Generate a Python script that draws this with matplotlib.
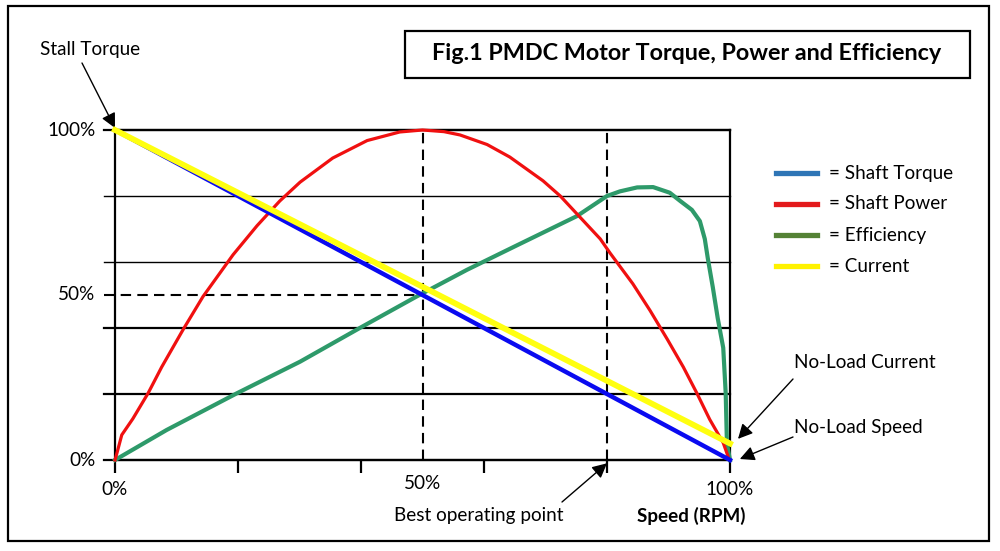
import matplotlib
matplotlib.use('Agg')
import matplotlib.pyplot as plt
from matplotlib.patches import Rectangle
from matplotlib.lines import Line2D

plt.rcParams['font.family'] = ['Lato', 'DejaVu Sans']

# speed (% of no-load speed) and curve values (%)
torque_speed = [0, 25, 50, 75, 100]
torque = [100, 75, 50, 25, 0]

current_speed = [0, 100]
current = [100, 5]

power_speed = [0, 0.3, 1.1, 2.9, 5.4, 7.6, 11.1, 14.3, 19.2, 23.1, 26.8, 30.1, 35.4, 41, 46.3,
               50, 53.5, 56.1, 60.5, 64.2, 69.6, 72.4, 75.6, 78.9, 80.5, 84.2, 87, 89.8, 92.4,
               94.6, 96.7, 98.9, 99.7]
power = [0, 2, 7.6, 12.5, 20.3, 28.2, 39.6, 49.5, 62.2, 71, 78.5, 84.2, 91.5, 96.8, 99.4,
         100, 99.5, 98.5, 95.6, 91.8, 84.6, 80, 73.6, 67, 62.7, 53.4, 45.3, 36.6, 28.2,
         20.3, 12.3, 5.2, 1]

eff_speed = [0, 8.4, 19.8, 30.1, 39.8, 49, 57.2, 65.3, 75.1, 80, 82.1, 84.9, 87.5, 90.2,
             91.9, 93.8, 95.1, 95.9, 96.4, 97.2, 98.0, 98.9, 99.3, 99.5, 100]
eff = [0, 9.1, 20.2, 29.8, 40, 49.5, 57.6, 65, 73.9, 80, 81.4, 82.6, 82.7, 81,
       78.5, 75.8, 72.4, 67, 61, 52.4, 43, 34, 20.3, 5, 0]

legend_labels = ['= Shaft Torque', '= Shaft Power', '= Efficiency', '= Current']
legend_colors = ['#2E75B6', '#E31A1C', '#548235', '#FFF200']

grid_levels = [0, 20, 40, 60, 80, 100]
x_ticks = [0, 20, 40, 60, 80, 100]

W, H = 1000, 551
FS = 13.6


def fx(px):
    return px / W


def fy(py):
    return 1 - py / H


fig = plt.figure(figsize=(10, 5.51), dpi=100)
ax = fig.add_axes([fx(115), fy(460), (730 - 115) / W, (460 - 130) / H])
ax.set_xlim(0, 100)
ax.set_ylim(0, 100)

# horizontal grid lines, extended a little left of the axis like ticks
for lev in grid_levels:
    lw = 1.0 if lev in (60, 80) else 1.6
    ax.axhline(lev, xmin=-0.018, xmax=1, color='black', lw=lw, clip_on=False, zorder=1)

# dashed guide lines
dash = (0, (5, 3))
ax.axvline(50, color='black', lw=1.5, ls=dash, zorder=1)
ax.axvline(80, color='black', lw=1.5, ls=dash, zorder=1)
ax.axhline(50, xmin=-0.018, xmax=0.5, color='black', lw=1.5, ls=dash, clip_on=False, zorder=1)

# curves
ax.plot(eff_speed, eff, color='#2E9A6A', lw=3.0, zorder=3, clip_on=False)
ax.plot(power_speed, power, color='#F01010', lw=2.3, zorder=4, clip_on=False)
ax.plot(torque_speed, torque, color='#0A0AF0', lw=3.2, zorder=5, clip_on=False)
ax.plot(current_speed, current, color='#FFFF10', lw=4.2, zorder=6, clip_on=False)

for side in ['left', 'right', 'top', 'bottom']:
    ax.spines[side].set_linewidth(1.6)
    ax.spines[side].set_color('black')

ax.set_xticks(x_ticks)
ax.set_xticklabels([])
ax.tick_params(axis='x', direction='out', length=9, width=1.6, color='black')
ax.set_yticks([])

# tick labels
ax.text(0, -9, '0%', ha='center', va='center', fontsize=FS)
ax.text(50, -7.2, '50%', ha='center', va='center', fontsize=FS)
ax.text(100, -9, '100%', ha='center', va='center', fontsize=FS)
for val, lab in [(100, '100%'), (50, '50%'), (0, '0%')]:
    ax.text(-3.2, val, lab, ha='right', va='center', fontsize=FS)

# annotations
fig.text(fx(40), fy(49), 'Stall Torque', ha='left', va='center', fontsize=FS)
fig.text(fx(794), fy(363), 'No-Load Current', ha='left', va='center', fontsize=FS)
fig.text(fx(794), fy(427), 'No-Load Speed', ha='left', va='center', fontsize=FS)
fig.text(fx(394), fy(516), 'Best operating point', ha='left', va='center', fontsize=FS)
fig.text(fx(637), fy(516), 'Speed (RPM)', ha='left', va='center', fontsize=FS, fontweight='bold')

arrow = dict(arrowstyle='-|>', color='black', lw=1.0, mutation_scale=22,
             shrinkA=0, shrinkB=0)
ax.annotate('', xy=(0, 100.6), xycoords='data', xytext=(fx(82), fy(63)),
            textcoords='figure fraction', arrowprops=arrow, annotation_clip=False)
ax.annotate('', xy=(101.3, 6.4), xycoords='data', xytext=(fx(793), fy(379)),
            textcoords='figure fraction', arrowprops=arrow, annotation_clip=False)
ax.annotate('', xy=(101.6, 0.3), xycoords='data', xytext=(fx(793), fy(437)),
            textcoords='figure fraction', arrowprops=arrow, annotation_clip=False)
ax.annotate('', xy=(80, -1), xycoords='data', xytext=(fx(562), fy(502)),
            textcoords='figure fraction', arrowprops=arrow, annotation_clip=False)

# manual legend
for i, (lab, col) in enumerate(zip(legend_labels, legend_colors)):
    yy = fy(173 + i * 31)
    fig.add_artist(Line2D([fx(776), fx(817)], [yy, yy], color=col, lw=3.8))
    fig.text(fx(829), yy, lab, ha='left', va='center', fontsize=FS)

# title box
fig.add_artist(Rectangle((fx(405), fy(78)), (970 - 405) / W, (78 - 31) / H,
                         transform=fig.transFigure, fill=False, ec='black', lw=1.6))
fig.text(fx(687), fy(54), 'Fig.1 PMDC Motor Torque, Power and Efficiency',
         ha='center', va='center', fontsize=16.8, fontweight='bold')

# outer border
fig.add_artist(Rectangle((fx(8), fy(541)), (989 - 8) / W, (541 - 6) / H,
                         transform=fig.transFigure, fill=False, ec='black', lw=1.6))

fig.savefig('out.png', dpi=100)
